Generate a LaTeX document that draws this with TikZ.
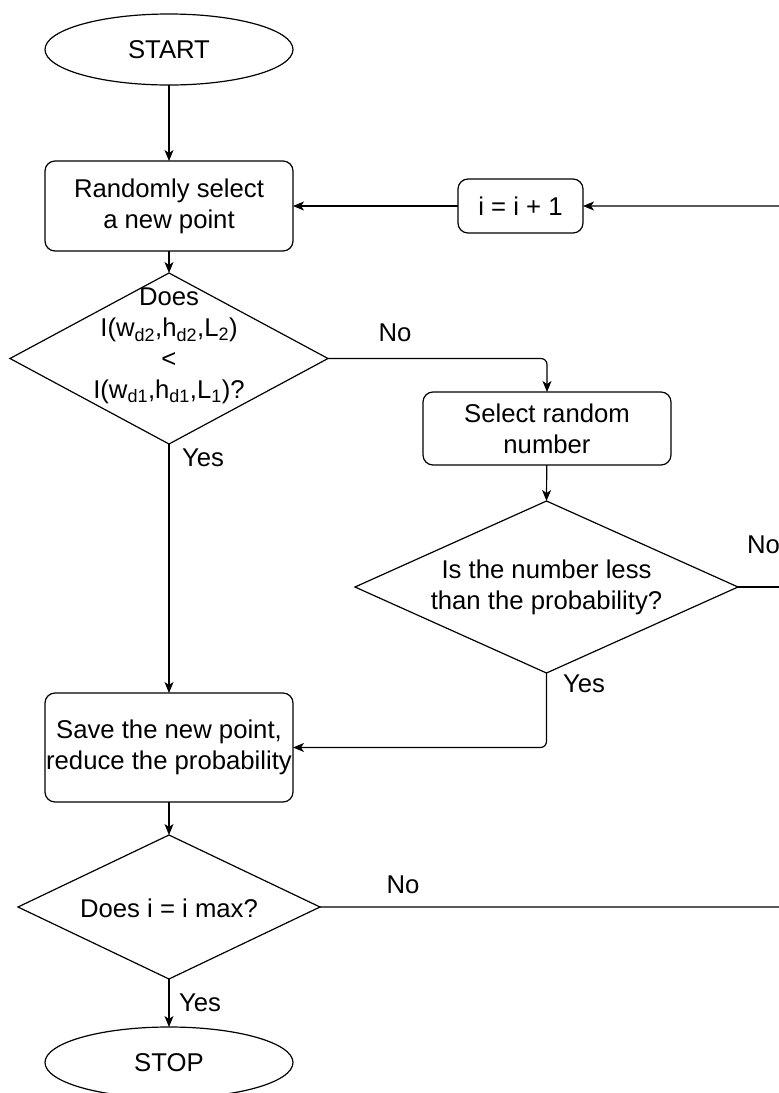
\documentclass[tikz,border=0pt]{standalone}
\usepackage{fontspec}
\setmainfont{Liberation Sans}
\usetikzlibrary{arrows.meta,shapes.geometric,calc}

\tikzset{
  base/.style={draw=black, line width=1.2pt, inner sep=0pt, outer sep=0pt, align=center},
  terminal/.style={base, ellipse, minimum width=248pt, minimum height=71pt},
  process/.style={base, rectangle, rounded corners=10pt},
  decision/.style={base, diamond},
  flow/.style={draw=black, line width=1.2pt, rounded corners=6pt,
    -{Stealth[length=11pt, width=9pt, inset=3pt]}},
  plainflow/.style={draw=black, line width=1.2pt, rounded corners=6pt},
  edgelabel/.style={inner sep=0pt, outer sep=0pt}
}

\begin{document}
\begin{tikzpicture}[x=1pt, y=-1pt, font=\fontsize{25.7pt}{30.8pt}\selectfont]
  \useasboundingbox (0,0) rectangle (779,1093);

  % nodes
  \node[terminal] (start) at (169,49.5) {START};
  \node[process, minimum width=248pt, minimum height=90pt] (pick) at (169,206)
    {Randomly select\\ a new point};
  \node[process, minimum width=125pt, minimum height=54pt] (inc) at (520.5,206) {i = i + 1};

  \node[decision, minimum width=318pt, minimum height=171pt] (cmp) at (169,358.5) {};
  \node[align=center, inner sep=0pt] (cmptext) at (169,346)
    {Does\\ I(w\textsubscript{d2},h\textsubscript{d2},L\textsubscript{2})\\ <\\
     I(w\textsubscript{d1},h\textsubscript{d1},L\textsubscript{1})?};

  \node[process, minimum width=248pt, minimum height=73pt] (rnd) at (547,428.5)
    {Select random\\ number};

  \node[decision, minimum width=383pt, minimum height=172pt] (prob) at (546.5,587) {};
  \node[align=center, inner sep=0pt] (probtext) at (546.5,587)
    {Is the number less\\ than the probability?};

  \node[process, minimum width=248pt, minimum height=109pt] (save) at (169,747.5)
    {Save the new point,\\ reduce the probability};

  \node[decision, minimum width=302pt, minimum height=144pt] (done) at (169,907) {};
  \node[inner sep=0pt] (donetext) at (169,908) {Does i = i max?};

  \node[terminal] (stop) at (169,1062.5) {STOP};

  % loop-back line running beyond the right margin
  \coordinate (rprob) at (800,587);
  \coordinate (rdone) at (800,907);

  % connectors
  \draw[flow] (start) -- (pick);
  \draw[flow] (pick) -- (cmp.north);
  \draw[flow] (cmp.east) -| (rnd.north);
  \draw[flow] (cmp.south) -- (save.north);
  \draw[flow] (rnd) -- (prob.north);
  \draw[flow] (prob.south) |- (save.east);
  \draw[plainflow] (prob.east) -- (rprob);
  \draw[flow] (inc) -- (pick);
  \draw[flow] (done.east) -- (rdone) |- (inc.east);
  \draw[flow] (save) -- (done.north);
  \draw[flow] (done.south) -- (stop);

  % edge labels
  \node[edgelabel] (lno1) at (395,333) {No};
  \node[edgelabel] (lyes1) at (203,458) {Yes};
  \node[edgelabel] (lyes2) at (584,684) {Yes};
  \node[edgelabel, anchor=west] (lno2) at (747,545) {No};
  \node[edgelabel] (lno3) at (403,885) {No};
  \node[edgelabel] (lyes3) at (200,1003) {Yes};
\end{tikzpicture}
\end{document}
